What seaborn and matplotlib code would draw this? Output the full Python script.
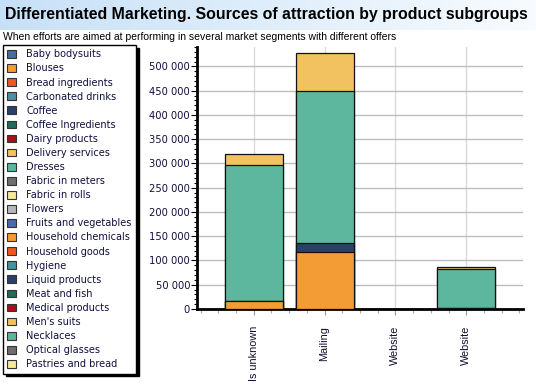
import matplotlib
matplotlib.use("Agg")
import matplotlib.pyplot as plt
import numpy as np
import pandas as pd
import seaborn as sns
from matplotlib.patches import Rectangle
from matplotlib.ticker import FuncFormatter, MultipleLocator


TITLE = "Differentiated Marketing. Sources of attraction by product subgroups"
SUBTITLE = "When efforts are aimed at performing in several market segments with different offers"

channels = ["Is unknown", "Mailing", "Website", "Website"]

products = [
    "Baby bodysuits", "Blouses", "Bread ingredients", "Carbonated drinks",
    "Coffee", "Coffee Ingredients", "Dairy products", "Delivery services",
    "Dresses", "Fabric in meters", "Fabric in rolls", "Flowers",
    "Fruits and vegetables", "Household chemicals", "Household goods", "Hygiene",
    "Liquid products", "Meat and fish", "Medical products", "Men's suits",
    "Necklaces", "Optical glasses", "Pastries and bread",
]

palette = [
    "#4a6aa8", "#f39c35", "#f0561e", "#4a90a0", "#2c3e6a", "#1e6e5a",
    "#a8101c", "#f2c260", "#5cb79e", "#6e6e6e", "#f6e898", "#b8b8b8",
]

# stacked segments, bottom to top
stack_order = ["Blouses", "Coffee", "Dresses", "Delivery services"]
blouses = [16000, 118000, 0, 2000]
coffee = [0, 19000, 0, 0]
dresses = [280000, 313000, 0, 81000]
delivery = [23000, 78000, 0, 3500]

W, H = 536, 385
fig = plt.figure(figsize=(W / 100, H / 100), dpi=100)
sns.set_style("white")
plt.rcParams["font.family"] = ["DejaVu Sans"]

# title band with a soft blue gradient
band = fig.add_axes([0, 1 - 30 / H, 1, 30 / H])
grad = np.linspace(0, 1, 256).reshape(1, -1)
c0 = np.array([0.78, 0.88, 0.97])
c1 = np.array([0.97, 0.985, 1.0])
img = c0[None, None, :] * (1 - grad[..., None]) + c1[None, None, :] * grad[..., None]
band.imshow(img, aspect="auto", extent=[0, 1, 0, 1])
band.set_axis_off()
fig.text(5 / W, 1 - 15 / H, TITLE, fontsize=11.4, fontweight="bold",
         family="Liberation Sans", va="center", ha="left", color="black")
fig.text(3 / W, 1 - 37 / H, SUBTITLE, fontsize=7.5, family="Liberation Sans",
         va="center", ha="left", color="black")

ax = fig.add_axes([197 / W, 1 - 309 / H, (523 - 197) / W, (309 - 47) / H])

df = pd.DataFrame({
    "pos": range(len(channels)),
    "Blouses": blouses,
    "Coffee": coffee,
    "Dresses": dresses,
    "Delivery services": delivery,
})
cum = df[stack_order].cumsum(axis=1)

color_of = {p: palette[i % len(palette)] for i, p in enumerate(products)}

# draw cumulative totals from the top segment down
for name in reversed(stack_order):
    sns.barplot(data=cum.assign(pos=df["pos"]), x="pos", y=name,
                color=color_of[name], saturation=1, width=0.82,
                edgecolor="#111111", linewidth=0.9, ax=ax, zorder=3)

ax.set_xlim(-0.8, 3.8)
ax.set_ylim(0, 540000)
ax.set_xlabel("")
ax.set_ylabel("")

ax.yaxis.set_major_locator(MultipleLocator(50000))
ax.yaxis.set_minor_locator(MultipleLocator(10000))
ax.yaxis.set_major_formatter(FuncFormatter(lambda v, _: f"{v:,.0f}".replace(",", " ")))
ax.set_xticks(range(len(channels)))
ax.set_xticks(np.arange(-0.75, 3.8, 0.25), minor=True)
ax.set_xticklabels(channels, rotation=90, fontsize=7.8, family="Liberation Sans",
                   color="#101030")

ax.tick_params(axis="y", which="major", length=4, width=0.8, color="black",
               labelsize=7.2, labelcolor="#101040", pad=1, left=True)
ax.tick_params(axis="y", which="minor", length=2.5, width=0.8, color="black", left=True)
ax.tick_params(axis="x", which="major", length=4, width=0.8, color="#999999", pad=8, bottom=True)
ax.tick_params(axis="x", which="minor", length=3, width=0.8, color="#aaaaaa", bottom=True)

ax.grid(axis="y", which="major", color="#bdbdbd", linewidth=1)
ax.grid(axis="x", which="major", color="#dadada", linewidth=1)
ax.set_axisbelow(True)
for side in ("top", "right"):
    ax.spines[side].set_visible(False)
ax.spines["left"].set_linewidth(2)
ax.spines["bottom"].set_linewidth(2)
ax.spines["left"].set_color("black")
ax.spines["bottom"].set_color("black")

handles = [Rectangle((0, 0), 1, 1, facecolor=color_of[p], edgecolor="#333333", linewidth=0.8)
           for p in products]
leg = fig.legend(handles, products, loc="upper left",
                 bbox_to_anchor=(3 / W, 1 - 45 / H), borderaxespad=0,
                 fontsize=7, frameon=True, fancybox=False,
                 shadow={"color": "black", "alpha": 1},
                 handlelength=0.85, handleheight=0.85, handletextpad=1.1,
                 labelspacing=0.42, borderpad=0.45)
leg.get_frame().set_edgecolor("black")
leg.get_frame().set_linewidth(1)
for t in leg.get_texts():
    t.set_color("#101040")

fig.savefig("out.png", dpi=100)
